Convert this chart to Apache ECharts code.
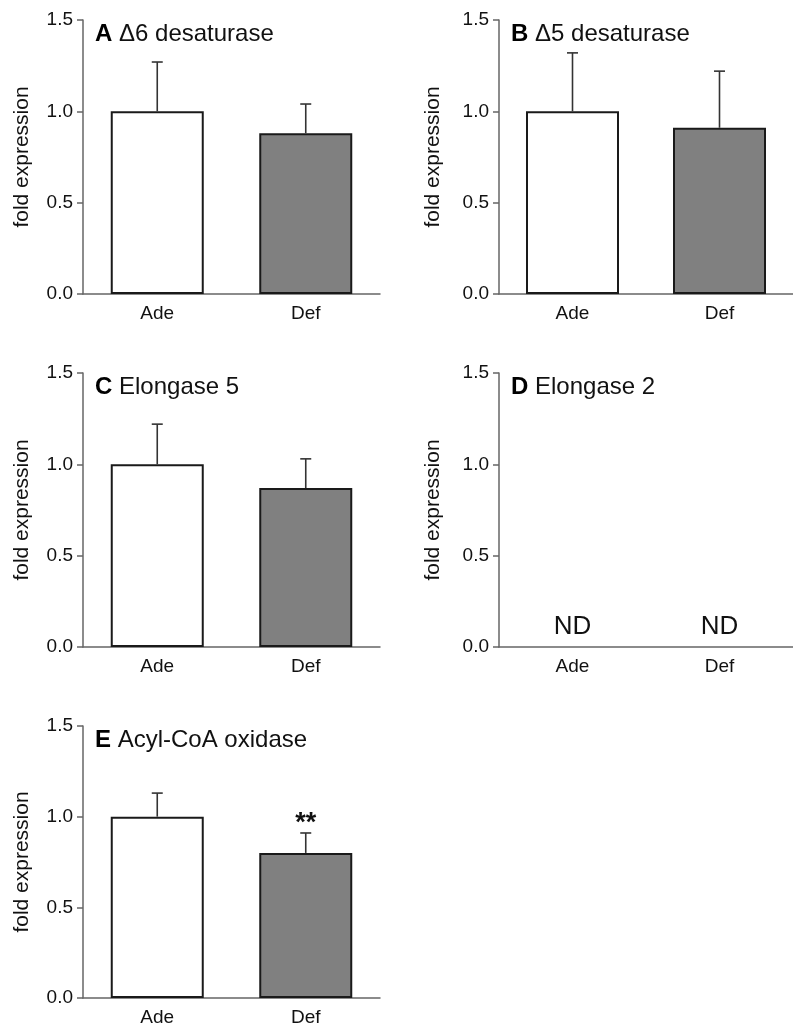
<!DOCTYPE html>
<html>
<head>
<meta charset="utf-8">
<script src="https://cdn.jsdelivr.net/npm/echarts@6/dist/echarts.min.js"></script>
<style>
  html, body { margin: 0; padding: 0; background: #fff; }
  #chart { width: 793px; height: 1027px; }
</style>
</head>
<body>
<div id="chart"></div>
<script>
// data
const categories = ['Ade', 'Def'];
const panelLetters = ['A', 'B', 'C', 'D', 'E'];
const panelNames = ['\u03946 desaturase', '\u03945 desaturase', 'Elongase 5', 'Elongase 2', 'Acyl-CoA oxidase'];
const yTickLabels = ['0.0', '0.5', '1.0', '1.5'];

const meanA = [1.00, 0.88];
const errA = [0.27, 0.16];
const meanB = [1.00, 0.91];
const errB = [0.32, 0.31];
const meanC = [1.00, 0.87];
const errC = [0.22, 0.16];
const meanD = [null, null];   // not detected
const errD = [null, null];
const ndD = ['ND', 'ND'];
const meanE = [1.00, 0.80];
const errE = [0.13, 0.11];
const sigE = ['', '**'];

const means = [meanA, meanB, meanC, meanD, meanE];
const errs = [errA, errB, errC, errD, errE];
const sigs = [null, null, null, null, sigE];

// layout of the five panels (px)
const boxes = [
  { left: 83, top: 20, width: 297, nameGap: 50 },
  { left: 499, top: 20, width: 296, nameGap: 55 },
  { left: 83, top: 373, width: 297, nameGap: 50 },
  { left: 499, top: 373, width: 296, nameGap: 55 },
  { left: 83, top: 726, width: 297, nameGap: 50 }
];
const plotH = 274;

const FONT = '"Liberation Sans", Arial, Helvetica, sans-serif';
const AXIS_COLOR = '#666';
const barColors = ['#ffffff', '#808080'];

const grid = [], xAxis = [], yAxis = [], series = [], graphic = [];

boxes.forEach((b, i) => {
  grid.push({ left: b.left, top: b.top, width: b.width, height: plotH, containLabel: false });
  xAxis.push({
    type: 'category', gridIndex: i, data: categories,
    axisLine: { lineStyle: { color: AXIS_COLOR, width: 1.5 } },
    axisTick: { show: false },
    axisLabel: { color: '#111', fontSize: 19, fontFamily: FONT, margin: 10 }
  });
  yAxis.push({
    type: 'value', gridIndex: i, min: 0, max: 1.5, interval: 0.5,
    name: 'fold expression', nameLocation: 'middle', nameGap: b.nameGap,
    nameTextStyle: { color: '#111', fontSize: 21, fontFamily: FONT },
    axisLine: { show: true, lineStyle: { color: AXIS_COLOR, width: 1.5 } },
    axisTick: { show: true, length: 6, lineStyle: { color: AXIS_COLOR, width: 1.5 } },
    axisLabel: {
      color: '#111', fontSize: 19, fontFamily: FONT, margin: 10,
      formatter: v => yTickLabels[Math.round(v / 0.5)]
    },
    splitLine: { show: false }
  });

  // panel title
  graphic.push({
    type: 'text', left: b.left + 12, top: b.top + 2,
    style: {
      text: '{l|' + panelLetters[i] + '} ' + panelNames[i],
      rich: {
        l: { fontSize: 24, fontWeight: 'bold', fontFamily: FONT, fill: '#000' }
      },
      fontSize: 24, fontFamily: FONT, fill: '#111'
    }
  });

  const m = means[i];
  if (m[0] !== null) {
    series.push({
      type: 'bar', xAxisIndex: i, yAxisIndex: i, barWidth: 93,
      data: m.map((v, k) => ({
        value: v,
        itemStyle: { color: barColors[k], borderColor: '#1a1a1a', borderWidth: 2 }
      })),
      z: 2, silent: true
    });
    const e = errs[i];
    const sig = sigs[i];
    series.push({
      type: 'custom', xAxisIndex: i, yAxisIndex: i, z: 3, silent: true,
      data: m.map((v, k) => [k, v, e[k]]),
      renderItem: (params, api) => {
        const x = api.value(0), mv = api.value(1), ev = api.value(2);
        const base = api.coord([x, mv]);
        const top = api.coord([x, mv + ev]);
        const st = { stroke: '#333', lineWidth: 1.6 };
        const children = [
          { type: 'line', shape: { x1: base[0], y1: base[1], x2: top[0], y2: top[1] }, style: st },
          { type: 'line', shape: { x1: top[0] - 5.5, y1: top[1], x2: top[0] + 5.5, y2: top[1] }, style: st }
        ];
        if (sig && sig[params.dataIndex]) {
          children.push({
            type: 'text', x: top[0], y: top[1] - 9,
            style: {
              text: sig[params.dataIndex], textAlign: 'center', textVerticalAlign: 'middle',
              fontSize: 27, fontWeight: 'bold', fontFamily: FONT, fill: '#111'
            }
          });
        }
        return { type: 'group', children };
      }
    });
  } else {
    // not detected: labels above the axis
    series.push({
      type: 'custom', xAxisIndex: i, yAxisIndex: i, silent: true,
      data: ndD.map((t, k) => [k, 0]),
      renderItem: (params, api) => {
        const p = api.coord([api.value(0), api.value(1)]);
        return {
          type: 'text', x: p[0], y: p[1] - 20,
          style: {
            text: ndD[params.dataIndex], textAlign: 'center', textVerticalAlign: 'middle',
            fontSize: 26, fontFamily: FONT, fill: '#111'
          }
        };
      }
    });
  }
});

const chart = echarts.init(document.getElementById('chart'), null, { renderer: 'canvas' });
chart.setOption({
  animation: false,
  backgroundColor: '#fff',
  grid, xAxis, yAxis, series, graphic
});
</script>
</body>
</html>
